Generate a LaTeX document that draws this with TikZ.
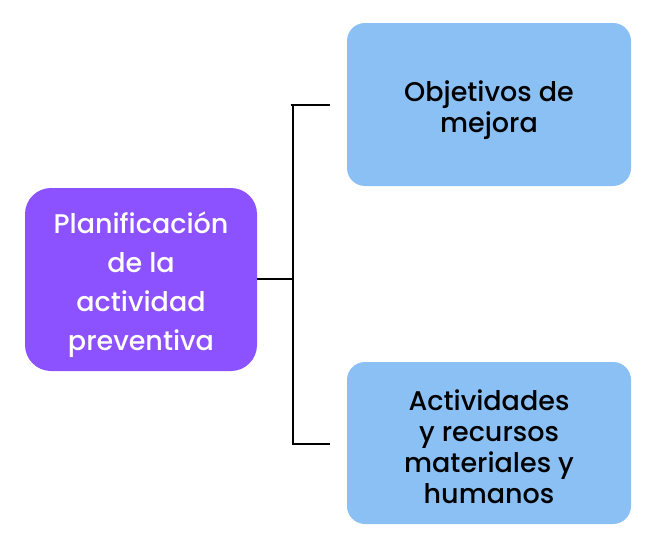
\documentclass[tikz,border=0pt]{standalone}
\usepackage{fontspec}
\setmainfont{Poppins}[UprightFont=* Medium, BoldFont=* SemiBold]
\definecolor{purplebox}{HTML}{8C52FF}
\definecolor{bluebox}{HTML}{8BC0F5}
\begin{document}
\begin{tikzpicture}[x=1pt,y=-1pt,
  mainbox/.style={fill=purplebox, rounded corners=26pt},
  subbox/.style={fill=bluebox, rounded corners=18pt},
  maintext/.style={align=center, text=white, font=\fontsize{27}{39}\selectfont},
  subtext/.style={align=center, text=black, font=\fontsize{27}{31}\selectfont},
  link/.style={line width=1.6pt, black}]
\useasboundingbox (0,0) rectangle (665,554);
\node[mainbox, minimum width=232pt, minimum height=183pt] (main) at (141,279.5) {};
\node[maintext] (maint) at (141,285) {Planificación\\de la\\actividad\\preventiva};
\node[subbox, minimum width=284pt, minimum height=163pt] (top) at (489,104.5) {};
\node[subtext] (topt) at (489,110) {Objetivos de\\mejora};
\node[subbox, minimum width=284pt, minimum height=162pt] (bot) at (489,443) {};
\node[subtext] (bott) at (489,446.5) {Actividades\\y recursos\\materiales y\\humanos};
\coordinate (tl) at (291,105);
\coordinate (tr) at (330,105);
\coordinate (bl) at (293,444);
\coordinate (br) at (330,444);
\coordinate (mid) at (293,279);
\draw[link] (tr) -- (tl) -- (bl |- tl) -- (bl) -- (br);
\draw[link] (main.east |- mid) -- (mid);
\end{tikzpicture}
\end{document}
